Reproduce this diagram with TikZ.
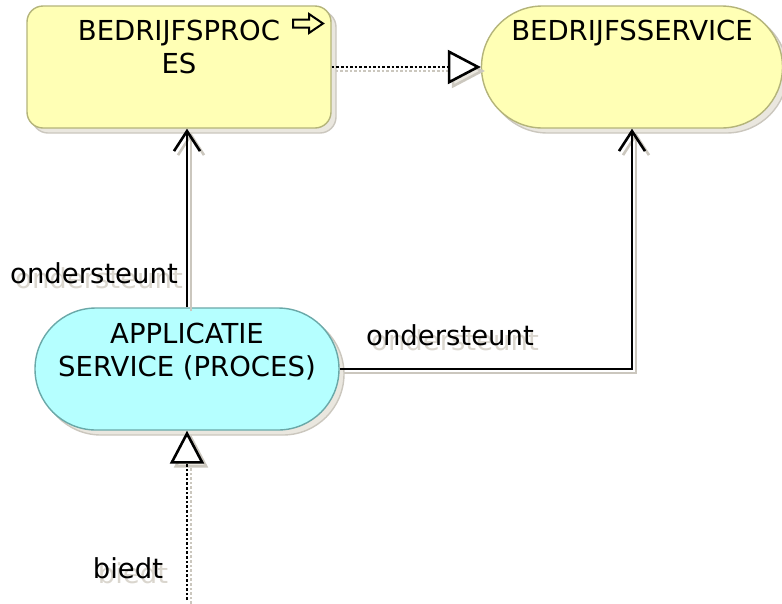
\documentclass[tikz,border=0pt]{standalone}
\usepackage{fontspec}
\setmainfont{DejaVu Sans}
\usepackage{xcolor}
\usepackage{tikz}
\usetikzlibrary{shadows, positioning}
\usetikzlibrary{arrows.meta}
\definecolor{bizyellow}{HTML}{FFFFB5}
\definecolor{bizline}{HTML}{B4B47A}
\definecolor{appcyan}{HTML}{B5FFFF}
\definecolor{appline}{HTML}{6AA8A8}
\definecolor{shadefill}{HTML}{EAE7DF}
\definecolor{shadeline}{HTML}{CBC7BE}
\definecolor{ghost}{HTML}{DAD6CE}

\begin{document}
\begin{tikzpicture}[x=1pt, y=-1pt, font=\fontsize{27.5}{33}\selectfont, shadowed/.style={drop shadow={shadow xshift=5pt, shadow yshift=-5pt, fill=shadefill, draw=shadeline, opacity=1}}, procbox/.style={rectangle, rounded corners=16pt, draw=bizline, fill=bizyellow, line width=1.4pt, minimum width=304pt, minimum height=122pt, shadowed}, servbox/.style={rectangle, rounded corners=61pt, draw=bizline, fill=bizyellow, line width=1.4pt, minimum width=301pt, minimum height=122pt, shadowed}, appbox/.style={rectangle, rounded corners=61pt, draw=appline, fill=appcyan, line width=1.4pt, minimum width=304pt, minimum height=122pt, shadowed}, boxtext/.style={inner sep=0pt, align=center, text=black}, lbl/.style={inner sep=0pt, text=black}, lblshade/.style={inner sep=0pt, text=ghost}, conn/.style={line width=2.6pt, black}, connshade/.style={line width=2.6pt, shadeline, transform canvas={xshift=4pt, yshift=-4pt}}, used/.style={-{Straight Barb[length=20pt, width=26pt]}}, real/.style={dash pattern=on 2.6pt off 2pt, -{Triangle[length=33pt, width=34pt, fill=#1]}}, real/.default=white]
    \useasboundingbox (0,0) rectangle (782,603);

    %Nodes
    \node[procbox](proces) at (179,67){};
    \node[servbox](service) at (632,67){};
    \node[appbox](app) at (187,369){};
    \node[boxtext](procestext)[below=15pt of proces.north]{BEDRIJFSPROC\\ES};
    \node[boxtext](servicetext)[below=15pt of service.north]{BEDRIJFSSERVICE};
    \node[boxtext](apptext)[below=16pt of app.north]{APPLICATIE\\SERVICE (PROCES)};
    \coordinate (bottom) at (187,600);

    %Process icon
    \draw[line width=2pt, fill=bizyellow] (293,19.5) -- (309,19.5) -- (309,14) -- (323,23.5) -- (309,33) -- (309,27.5) -- (293,27.5) -- cycle;

    %Labels
    \node[lblshade](leftshade) at (99,278){ondersteunt};
    \node[lbl](leftlabel) at (94,273){ondersteunt};
    \node[lblshade](rightshade) at (455,340){ondersteunt};
    \node[lbl](rightlabel) at (450,335){ondersteunt};
    \node[lblshade](biedtshade) at (133,573){biedt};
    \node[lbl](biedtlabel) at (128,568){biedt};

    %Lines
    \draw[connshade, used] (app.north) -- (app.north |- proces.south);
    \draw[connshade, used] (app.east) -| (service.south);
    \draw[connshade, real=shadefill] (proces.east) -- (service.west);
    \draw[connshade, real=shadefill] (bottom) -- (app.south);
    \draw[conn, used] (app.north) -- (app.north |- proces.south);
    \draw[conn, used] (app.east) -| (service.south);
    \draw[conn, real] (proces.east) -- (service.west);
    \draw[conn, real] (bottom) -- (app.south);

\end{tikzpicture}
\end{document}
